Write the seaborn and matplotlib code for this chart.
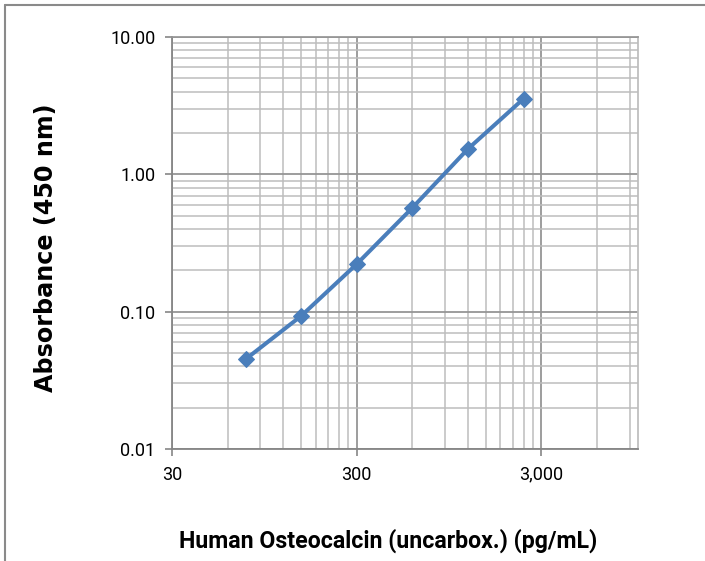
import seaborn as sns
import pandas as pd
import numpy as np
import matplotlib.pyplot as plt
from matplotlib.ticker import FixedLocator, LogLocator, NullFormatter
from matplotlib.lines import Line2D

# standard curve values
concentration = [75, 150, 300, 600, 1200, 2400]
absorbance = [0.045, 0.093, 0.222, 0.57, 1.53, 3.55]

x_ticks = [30, 300, 3000]
x_tick_labels = ['30', '300', '3,000']
y_ticks = [0.01, 0.1, 1, 10]
y_tick_labels = ['0.01', '0.10', '1.00', '10.00']


def make_plot(df):
    sns.set_theme(style='white')
    plt.rcParams['font.family'] = ['Roboto', 'DejaVu Sans']
    plt.rcParams['text.color'] = 'black'

    fig = plt.figure(figsize=(7.05, 5.61), dpi=100)
    ax = fig.add_axes([172 / 705, 1 - 449 / 561, (638 - 172) / 705, (449 - 37) / 561])

    ax.set_xscale('log')
    ax.set_yscale('log')
    ax.set_xlim(30, 10000)
    ax.set_ylim(0.01, 10)

    # minor gridlines at 2x..9x of each decade (x decades start at 30)
    x_minor = [m * d for d in [30, 300, 3000] for m in range(2, 10) if m * d < 10000]
    ax.xaxis.set_minor_locator(FixedLocator(x_minor))
    ax.yaxis.set_minor_locator(LogLocator(base=10, subs=np.arange(2, 10)))
    ax.xaxis.set_minor_formatter(NullFormatter())
    ax.yaxis.set_minor_formatter(NullFormatter())
    ax.grid(which='minor', color='#bdbdbd', linewidth=1.1)
    ax.grid(which='major', color='#959595', linewidth=1.3)
    ax.set_axisbelow(True)

    sns.lineplot(data=df, x='concentration', y='absorbance', ax=ax,
                 color='#4a7ebb', linewidth=2.9, marker='D', markersize=8.5,
                 markeredgecolor='#4a7ebb', legend=False)

    ax.set_xticks(x_ticks)
    ax.set_xticklabels(x_tick_labels)
    ax.set_yticks(y_ticks)
    ax.set_yticklabels(y_tick_labels)
    ax.tick_params(axis='both', which='major', length=5, width=1.2, color='#868686',
                   labelsize=13, labelcolor='black', pad=7, direction='out',
                   bottom=True, left=True)
    ax.tick_params(which='minor', length=0)

    for side in ['left', 'bottom']:
        ax.spines[side].set_color('#868686')
        ax.spines[side].set_linewidth(1.3)
    ax.spines['top'].set_color('#959595')
    ax.spines['right'].set_color('#bdbdbd')

    ax.set_xlabel('Human Osteocalcin (uncarbox.) (pg/mL)', fontsize=16.7, fontweight='bold',
                  color='black')
    ax.xaxis.set_label_coords(0.4635, -0.192)
    ax.set_ylabel('Absorbance (450 nm)', fontsize=17.2, fontweight='bold', color='black',
                  family=['DejaVu Sans'])
    ax.yaxis.set_label_coords(-0.245, 0.489)

    # outer chart frame (top and left edges visible)
    fig.add_artist(Line2D([4.5 / 705, 1], [1 - 5 / 561, 1 - 5 / 561], color='#8a8a8a', linewidth=1.5))
    fig.add_artist(Line2D([4.5 / 705, 4.5 / 705], [0, 1 - 5 / 561], color='#8a8a8a', linewidth=1.5))

    plt.savefig('out.png', dpi=100)
    plt.close()


def main():
    df = pd.DataFrame({'concentration': concentration, 'absorbance': absorbance})
    make_plot(df)


if __name__ == '__main__':
    main()
